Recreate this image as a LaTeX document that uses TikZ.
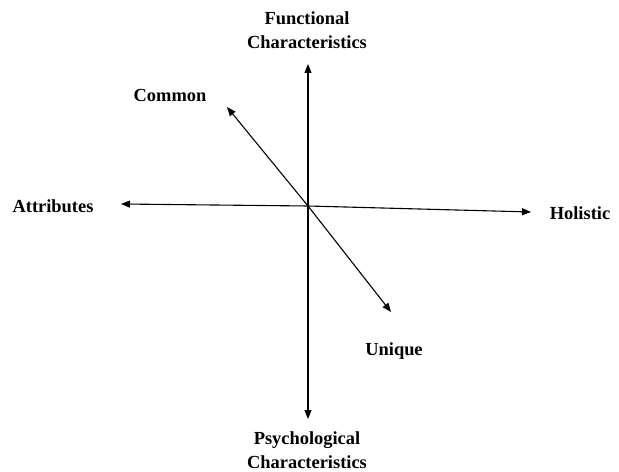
\documentclass[tikz,border=0pt]{standalone}
\usepackage{fontspec}
\setmainfont{Liberation Serif}
\usetikzlibrary{arrows.meta}
\begin{document}
\begin{tikzpicture}[x=1bp,y=-1bp,
  lbl/.style={font=\fontsize{18.5}{24}\selectfont\bfseries, align=center, inner sep=0pt},
  axis/.style={line width=1.1bp, -{Triangle[length=9bp,width=7bp]}}]
\useasboundingbox (0,0) rectangle (619,472);
\fill[white] (0,0) rectangle (619,472);
\coordinate (O) at (308,206);
\coordinate (top) at (308,64);
\coordinate (bot) at (308,419);
\coordinate (left) at (121,204);
\coordinate (right) at (531,212);
\coordinate (ul) at (227,107);
\coordinate (lr) at (391,312);
\draw[axis] (O) -- (top);
\draw[axis] (O) -- (bot);
\draw[axis] (O) -- (left);
\draw[axis] (O) -- (right);
\draw[axis] (O) -- (ul);
\draw[axis] (O) -- (lr);
\node[lbl] (func) at (307,30) {Functional\\Characteristics};
\node[lbl] (psych) at (307,450) {Psychological\\Characteristics};
\node[lbl] (attr) at (53,206) {Attributes};
\node[lbl] (hol) at (580,213) {Holistic};
\node[lbl] (com) at (170,95) {Common};
\node[lbl] (uni) at (394,351) {Unique};
\end{tikzpicture}
\end{document}
